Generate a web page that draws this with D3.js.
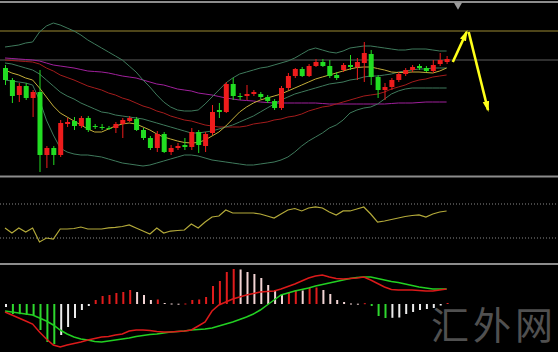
<!DOCTYPE html>
<html>
<head>
<meta charset="utf-8">
<script src="https://cdn.jsdelivr.net/npm/d3@7"></script>
<style>
  html, body { margin: 0; padding: 0; background: #000; }
  svg { display: block; }
</style>
</head>
<body>
<svg id="chart" width="558" height="352"></svg>
<script>
// price in points above the bottom of the main pane
const opens  = [107,95,80,89,77,83,20,27,20,51,54,49,57,49,48,47,47,51,54,56,45,37,27,41,23,27,30,28,43,29,42,65,63,91,79,79,81,81,78,74,67,87,99,106,99,109,113,109,100,105,110,108,112,121,98,85,88,95,101,105,109,107,104,111,113];
const closes = [95,79,89,77,83,20,27,20,52,53,49,57,45,48,48,47,51,55,57,45,37,27,41,23,27,29,28,43,30,41,63,63,91,79,78,81,83,78,74,67,87,99,106,99,109,113,109,99,97,110,108,113,122,98,85,88,95,101,105,108,107,104,110,115,116];
const highs  = [110,97,92,92,85,105,29,29,55,57,58,59,59,51,51,49,53,57,59,58,47,39,44,43,30,32,37,47,45,43,70,72,93,97,82,90,85,83,80,76,89,102,107,108,111,116,116,115,103,112,120,117,133,125,100,92,97,103,107,110,111,109,115,122,119];
const lows   = [90,72,73,75,58,3,7,10,18,48,45,47,43,46,45,45,42,37,53,44,35,25,23,22,20,25,25,25,22,23,40,57,62,75,75,75,79,76,72,65,65,85,97,98,98,108,108,97,95,103,105,95,93,90,77,75,85,93,99,103,105,103,102,109,111];

const ma10    = [105,102,100,97,95,87,78,69,62,58,54,50,46,43,43,46,49,51,52,51,48,45,41,38,36,34,32.5,32,32.5,35,39,43,49,56,63,68,72,75,77,79,81,84,87,90,93,96,98,100,102,104,106,107.5,108,108,106.5,105,103,102.5,102.5,103,103,102.5,102,104,107];
const bbMid   = [112,111,109,107,105,101,95,89,83,79,76,72,69,66,63,62,60,59,58,57,56,54,52,50,48,46,44,42,42,43,44,46,48,50,53,56,59,63,67,71,75,78,81,83,85,87,89,91,92,93,95,96,98,99,99,100,101,103,104,105,106,106,107,107,107];
const bbUpper = [128,129,130,132,133,143,149,152,150,147,144,140,135,131,127,123,119,115,109,103,95,88,80,73,68,65,64,64,65,71,78,85,92,97,101,103,105,107,108,110,112,114,117,121,125,127,125,123,122,124,127,128,129,129,128,127,126,125,125,126,126,126,125,124,124];
const bbLower = [95,94,93,92,90,75,55,40,27,23,21,20,20,19,18,16,14,12,11,10,9,10,12,14,16,18,20,20,19,17,15,14,13,12,11,10,10,11,12,13,15,18,23,29,34,38,42,47,50,55,62,65,67,68,71,76,81,84,86,87,87,87,87,87,87];
const ma50    = [115,114.5,114,113.5,113,111,107,104,100,97.5,95,92,89,87,85,82,80,77,75,72,69,67,64,62,59,57,55,54,52,50,49,48,48,48,48,49,51,52,53,55,56,58,59,61,64,66,68,69,71,73,75,77,79,80,81,83,86,88,90,93,95,96,98,99,100];
const ma100   = [117,116.5,116,115.5,115,114,112,110,109,108,107,105.5,104,103.5,103,102,100.5,99,98,97,95,93,91,90,88,86,85,84,82,81,80,78.5,77,76,75,74.5,74,73,72.5,72,72,72,72,72,72,72,71.5,71,71,71,71,71,71,71,71,71,71.5,72,72,72,72.5,73,73,73,73];

const levels = [
  { price: 144, color: "#9c8a32" },
  { price: 115, color: "#5e5e5e" },
];

// forecast arrows: [candle index, price]
const arrows = [
  [[64.9, 113], [66.9, 143]],
  [[67.2, 143], [70.0, 65]],
];

const rsi = [41.8,35.9,41.8,37.1,41.8,25.3,30.0,28.8,40.6,40.6,41.2,42.9,40.6,40.6,40.6,41.8,42.4,43.5,45.3,41.8,38.2,34.7,41.8,35.9,38.2,38.8,39.4,46.5,41.8,48.8,54.7,55.9,62.9,59.4,59.4,59.4,59.4,58.2,55.9,53.5,58.2,62.9,64.7,61.8,65.3,66.5,65.3,60.6,57.1,61.8,61.8,64.1,66.5,58.2,48.8,50.0,51.8,53.5,55.3,56.5,57.1,54.7,58.2,60.6,61.8];
const rsiLevels = [70, 30];

const macdLine   = [-8,-11,-14,-17,-20,-28,-35,-41,-43,-41,-39.5,-38,-36,-34.5,-33,-32.5,-31,-30,-27,-26,-26,-26.5,-27.5,-28,-28,-27.5,-27,-26,-22,-18,-7,-1,2,5,7,9,10.5,12,12.5,13,15,17.5,20,23,26,28,29,27,25.5,25,25.5,26,27,24,20.5,17,14.5,14,14,14,13.5,13,13,14,15];
const signalLine = [-7,-8,-9,-10,-11,-14,-17,-21,-26,-30,-33,-35,-36,-37.5,-38,-37,-36,-35,-34,-32.5,-31.5,-30.5,-30,-29,-28,-27.5,-27,-26,-25.5,-25,-24,-22,-20,-18,-15.5,-13,-10,-6,-1,4,9,11,13,14.5,16,18,19.5,21,22.5,24,25.5,26.5,27,27,25.5,24,22.5,21.5,20,18.5,17,16,15,15,15];
const macdHist   = [-3,-10,-10.2,-11,-11.3,-26,-38,-40,-31,-23,-14,-6,-2,4,8,9,11,12,14,12,9,4,4.5,1,0.5,0.3,0.5,4,4.5,7,18,23,32,35,34.5,32,30,26,19,14,9,12,14,13.5,16,16.5,14,10,4,2,0.5,0.3,0.8,-2,-12,-14,-13.8,-13.5,-10,-8,-6,-5,-4,-1.5,1];

const watermark = "汇外网";

const W = 558, H = 352;
const svg = d3.select("#chart");
svg.append("rect").attr("width", W).attr("height", H).attr("fill", "#000");

const x = d3.scaleLinear().domain([0, 64]).range([5, 446.6]);
const yPrice = d3.scaleLinear().domain([0, 172]).range([175, 3]);
const yOsc = d3.scaleLinear().domain([0, 100]).range([263.5, 178.5]);
const yMacd = d3.scaleLinear().domain([-48, 39]).range([352, 265]);

const UP = "#ee1c1c", DOWN = "#22dd22";

// pane separators
[2, 176.5, 264].forEach((py) => {
  svg.append("line")
    .attr("x1", 0).attr("x2", W).attr("y1", py).attr("y2", py)
    .attr("stroke", "#8c8c8c").attr("stroke-width", 2);
});

// ---- main pane ----
const main = svg.append("g");

levels.forEach((l) => {
  main.append("line")
    .attr("x1", 0).attr("x2", W)
    .attr("y1", yPrice(l.price)).attr("y2", yPrice(l.price))
    .attr("stroke", l.color).attr("stroke-width", 1.2);
});

const priceLine = (yScale) => d3.line().x((d, i) => x(i)).y((d) => yScale(d));

const overlays = [
  { values: ma100, color: "#a0209c" },
  { values: ma50, color: "#a41c1c" },
  { values: bbUpper, color: "#3f7a5c" },
  { values: bbLower, color: "#3f7a5c" },
  { values: bbMid, color: "#3f7a5c" },
  { values: ma10, color: "#c4ae3a" },
];
overlays.forEach((o) => {
  main.append("path")
    .attr("d", priceLine(yPrice)(o.values))
    .attr("fill", "none")
    .attr("stroke", o.color)
    .attr("stroke-width", 1);
});

const candles = opens.map((o, i) => ({ i, o, c: closes[i], h: highs[i], l: lows[i] }));
const candleG = main.selectAll("g.candle").data(candles).join("g").attr("class", "candle");
candleG.append("line")
  .attr("x1", (d) => x(d.i) + 0.5).attr("x2", (d) => x(d.i) + 0.5)
  .attr("y1", (d) => yPrice(d.h)).attr("y2", (d) => yPrice(d.l))
  .attr("stroke", (d) => (d.c > d.o ? UP : DOWN))
  .attr("stroke-width", 1);
candleG.append("rect")
  .attr("x", (d) => x(d.i) - 2)
  .attr("width", 5)
  .attr("y", (d) => yPrice(Math.max(d.o, d.c)))
  .attr("height", (d) => Math.max(1, Math.abs(yPrice(d.o) - yPrice(d.c))))
  .attr("fill", (d) => (d.c > d.o ? UP : DOWN));

// arrows
const defs = svg.append("defs");
defs.append("marker")
  .attr("id", "head")
  .attr("viewBox", "0 0 10 6")
  .attr("refX", 8).attr("refY", 3)
  .attr("markerWidth", 4.2).attr("markerHeight", 2.8)
  .attr("orient", "auto")
  .append("path").attr("d", "M0,0 L10,3 L0,6 Z").attr("fill", "#ffff1a");

arrows.forEach((a) => {
  main.append("line")
    .attr("x1", x(a[0][0])).attr("y1", yPrice(a[0][1]))
    .attr("x2", x(a[1][0])).attr("y2", yPrice(a[1][1]))
    .attr("stroke", "#ffff1a").attr("stroke-width", 2.6)
    .attr("marker-end", "url(#head)");
});

// small scroll marker on top border
main.append("path")
  .attr("d", d3.symbol(d3.symbolTriangle, 30)())
  .attr("transform", "translate(458,5) rotate(180)")
  .attr("fill", "#9a9a9a");

// ---- oscillator pane ----
rsiLevels.forEach((lv) => {
  svg.append("line")
    .attr("x1", 0).attr("x2", W)
    .attr("y1", yOsc(lv)).attr("y2", yOsc(lv))
    .attr("stroke", "#8a8a8a").attr("stroke-width", 1)
    .attr("stroke-dasharray", "1,2");
});
svg.append("path")
  .attr("d", priceLine(yOsc)(rsi))
  .attr("fill", "none").attr("stroke", "#b4aa3a").attr("stroke-width", 1.2);

// ---- MACD pane ----
const histColor = (v, i) => {
  const prev = i > 0 ? macdHist[i - 1] : v;
  if (v >= 0) return v >= prev ? "#e01c1c" : "#f2d4d4";
  return v < prev ? "#2ed82e" : "#ececec";
};
svg.selectAll("rect.hist").data(macdHist).join("rect")
  .attr("class", "hist")
  .attr("x", (d, i) => x(i))
  .attr("width", 2)
  .attr("y", (d) => yMacd(Math.max(0, d)))
  .attr("height", (d) => Math.max(1, Math.abs(yMacd(d) - yMacd(0))))
  .attr("fill", (d, i) => histColor(d, i));

svg.append("path")
  .attr("d", priceLine(yMacd)(signalLine))
  .attr("fill", "none").attr("stroke", "#22d022").attr("stroke-width", 1.5);
svg.append("path")
  .attr("d", priceLine(yMacd)(macdLine))
  .attr("fill", "none").attr("stroke", "#dc1a1a").attr("stroke-width", 1.5);

// watermark
svg.append("text")
  .attr("x", 431).attr("y", 339)
  .attr("font-family", "'Noto Sans CJK SC', sans-serif")
  .attr("font-size", 38)
  .attr("letter-spacing", 4)
  .attr("fill", "#505050")
  .text(watermark);
</script>
</body>
</html>
